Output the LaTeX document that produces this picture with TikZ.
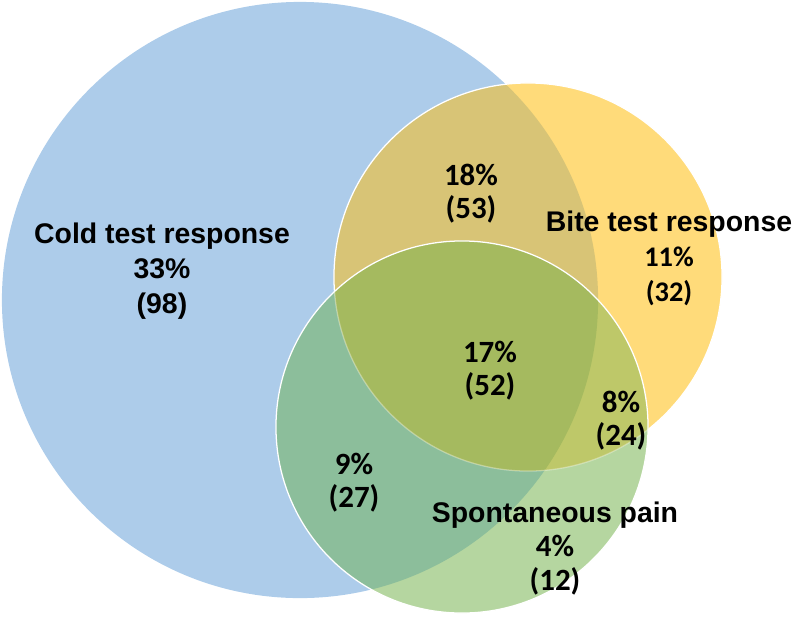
\documentclass[tikz,border=0pt]{standalone}
\usepackage{fontspec}
\setmainfont{Liberation Sans}
\newfontfamily\numfont{Carlito}
\usetikzlibrary{positioning}
\definecolor{coldblue}{RGB}{173,204,234}
\definecolor{biteyellow}{RGB}{255,219,122}
\definecolor{paingreen}{RGB}{181,214,160}
\definecolor{coldbite}{RGB}{216,196,118}
\definecolor{coldpain}{RGB}{140,190,155}
\definecolor{bitepain}{RGB}{190,200,105}
\definecolor{allthree}{RGB}{165,186,95}

\begin{document}
\begin{tikzpicture}[
    x=0.025cm, y=-0.025cm,
    setlabel/.style={align=center, inner sep=0pt, font=\bfseries\fontsize{20.2}{24.9}\selectfont},
    countlabel/.style={align=center, inner sep=0pt, font=\numfont\bfseries\fontsize{22}{23.5}\selectfont},
    rim/.style={draw=white, line width=0.9pt},
]
\useasboundingbox (0,0) rectangle (800,627);

\coordinate (cold) at (300,300);
\coordinate (bite) at (528,277);
\coordinate (pain) at (462,427);

% the three sets
\fill[coldblue] (cold) circle (7.45cm);
\fill[biteyellow] (bite) circle (4.85cm);
\begin{scope}
  \clip (cold) circle (7.45cm);
  \fill[coldbite] (bite) circle (4.85cm);
\end{scope}
\draw[rim] (bite) circle (4.85cm);

\fill[paingreen] (pain) circle (4.65cm);
\begin{scope}
  \clip (cold) circle (7.45cm);
  \fill[coldpain] (pain) circle (4.65cm);
\end{scope}
\begin{scope}
  \clip (bite) circle (4.85cm);
  \fill[bitepain] (pain) circle (4.65cm);
  \clip (cold) circle (7.45cm);
  \fill[allthree] (pain) circle (4.65cm);
\end{scope}
\begin{scope}
  \clip (pain) circle (4.65cm);
  \draw[rim, draw opacity=0.35] (bite) circle (4.85cm);
\end{scope}
\draw[rim] (pain) circle (4.65cm);

% labels
\node[setlabel] (coldlbl) at (162,271) {Cold test response\\33\%\\(98)};
\node[setlabel] (bitelbl) at (669,258) {Bite test response\\{\numfont 11\%}\\{\numfont (32)}};
\node[setlabel, font=\bfseries\fontsize{20.2}{24.2}\selectfont] (painlbl) at (555,549) {Spontaneous pain\\{\numfont\fontsize{22}{24.2}\selectfont 4\%}\\{\numfont\fontsize{22}{23}\selectfont (12)}};

\node[countlabel] (cbcount) at (471,194) {18\%\\(53)};
\node[countlabel] (allcount) at (490,371) {17\%\\(52)};
\node[countlabel] (bpcount) at (621,421) {8\%\\(24)};
\node[countlabel] (cpcount) at (354,483) {9\%\\(27)};

\end{tikzpicture}
\end{document}
